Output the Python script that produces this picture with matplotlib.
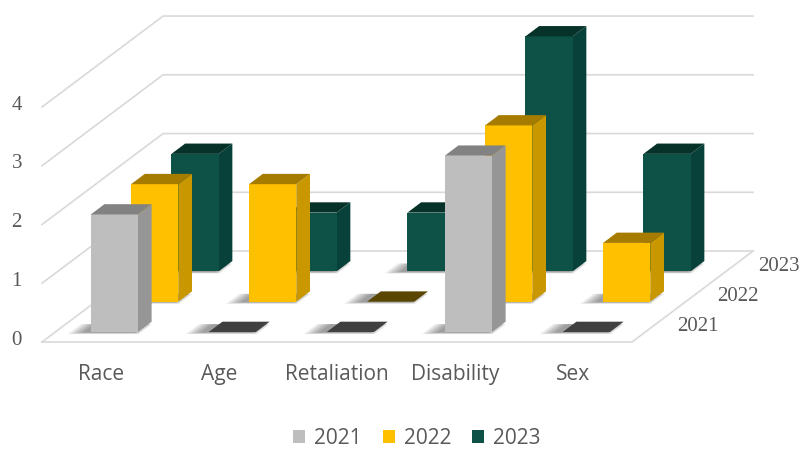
import matplotlib
matplotlib.use("Agg")
import matplotlib.pyplot as plt
from matplotlib.patches import Polygon
import numpy as np

# data
categories = ['Race', 'Age', 'Retaliation', 'Disability', 'Sex']
years = ['2021', '2022', '2023']
v2021 = [2, 0, 0, 3, 0]
v2022 = [2, 2, 0, 3, 1]
v2023 = [2, 1, 1, 4, 2]
yticks = [0, 1, 2, 3, 4]

# colours per series: front, side, top, flat (zero value)
front_c = ['#bebebe', '#ffc000', '#0e5247']
side_c = ['#969696', '#c99800', '#08403a']
top_c = ['#828282', '#a67c00', '#063229']
flat_c = ['#404040', '#5a4600', '#063229']
grid_c = '#d9d9d9'
text_c = '#595959'

# oblique projection: one depth row shifts by (DX, DY) in data units
DX, DY = 0.342, 0.516
NROW = 3
BAR_W = 0.4
D0, D1 = 0.33, 0.67


def P(x, y, d):
    return (x + DX * d, y + DY * d)


fig = plt.figure(figsize=(8.02, 4.49), dpi=100)
ax = fig.add_axes([0, 0, 1, 1])
ax.set_xlim(-42 / 118., (802 - 42) / 118.)
ax.set_ylim(-(449 - 342) / 58.75, 342 / 58.75)
ax.axis('off')

ncat = len(categories)

# walls: gridlines on the back wall and the left wall
for t in yticks:
    xs, ys = zip(P(0, t, 0), P(0, t, NROW), P(ncat, t, NROW))
    ax.plot(xs, ys, color=grid_c, lw=1.2, zorder=1)
# floor front and right edges
xs, ys = zip(P(0, 0, 0), P(ncat, 0, 0), P(ncat, 0, NROW))
ax.plot(xs, ys, color=grid_c, lw=1.2, zorder=1)

series = [v2021, v2022, v2023]
z = 2
for r in range(NROW - 1, -1, -1):
    vals = series[r]
    for i, v in enumerate(vals):
        x0 = i + 0.5 - BAR_W / 2
        x1 = i + 0.5 + BAR_W / 2
        d0, d1 = r + D0, r + D1
        # soft shadow on the floor, a few stacked translucent layers
        for k in range(6):
            g = 0.022 * k
            sh = [P(x0 - 0.17 + g, 0, d0 - 0.07 + g / 2), P(x1 + 0.03 - g / 2, 0, d0 - 0.07 + g / 2),
                  P(x1 + 0.03 - g / 2, 0, d1 - 0.08), P(x0 - 0.17 + g, 0, d1 - 0.08)]
            ax.add_patch(Polygon(sh, closed=True, fc='black', ec='none', alpha=0.075, zorder=z))
        z += 1
        if v == 0:
            top = [P(x0, 0, d0), P(x1, 0, d0), P(x1, 0, d1), P(x0, 0, d1)]
            ax.add_patch(Polygon(top, closed=True, fc=flat_c[r], ec='none', zorder=z))
            z += 1
            continue
        front = [P(x0, 0, d0), P(x1, 0, d0), P(x1, v, d0), P(x0, v, d0)]
        side = [P(x1, 0, d0), P(x1, 0, d1), P(x1, v, d1), P(x1, v, d0)]
        top = [P(x0, v, d0), P(x1, v, d0), P(x1, v, d1), P(x0, v, d1)]
        ax.add_patch(Polygon(side, closed=True, fc=side_c[r], ec='none', zorder=z))
        ax.add_patch(Polygon(front, closed=True, fc=front_c[r], ec='none', zorder=z + 1))
        ax.add_patch(Polygon(top, closed=True, fc=top_c[r], ec='none', zorder=z + 1))
        z += 2

# value axis labels
for t in yticks:
    x, y = P(0, t, 0)
    ax.text(x - 0.17, y + 0.03, str(t), ha='right', va='center', fontsize=15,
            family='Liberation Serif', color=text_c)

# series labels on the right
for r, yr in enumerate(years):
    x, y = P(ncat, 0, r + 0.5)
    ax.text(x + 0.21, y, yr, ha='left', va='center', fontsize=15,
            family='Liberation Serif', color=text_c)

# category labels
for i, c in enumerate(categories):
    ax.text(i + 0.5, -0.56, c, ha='center', va='center', fontsize=15,
            family='Open Sans', color=text_c)

# legend
handles = [plt.Rectangle((0, 0), 1, 1, fc=front_c[r], ec='none') for r in range(NROW)]
leg = fig.legend(handles, years, loc='center', bbox_to_anchor=(0.52, 0.024), ncol=3,
                 frameon=False, handlelength=0.58, handleheight=0.58, handletextpad=0.43,
                 columnspacing=1.0, borderaxespad=0, borderpad=0,
                 prop={'family': 'Open Sans', 'size': 15})
for t in leg.get_texts():
    t.set_color(text_c)

fig.savefig('out.png', dpi=100)
